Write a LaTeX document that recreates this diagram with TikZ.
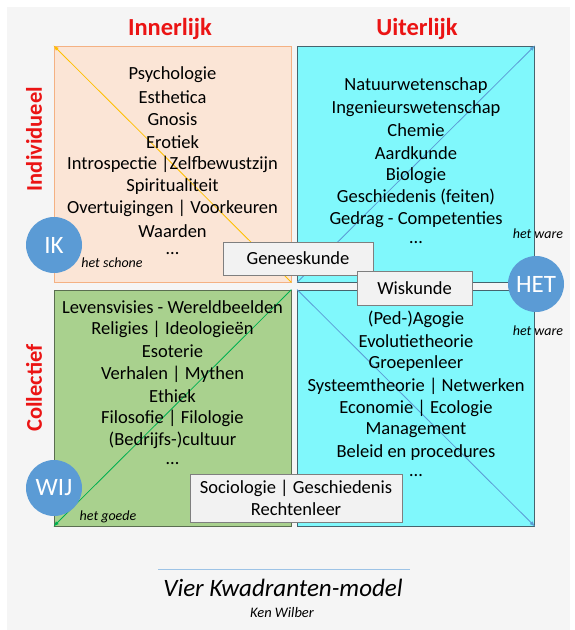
\documentclass[tikz,border=0pt]{standalone}
\usepackage{fontspec}
\setmainfont{Carlito}
\tikzset{% change default arrow tips
    >=latex
}
\definecolor{bggray}{RGB}{245,245,245}
\definecolor{peach}{RGB}{251,229,214}
\definecolor{peachline}{RGB}{244,177,131}
\definecolor{aqua}{RGB}{128,248,252}
\definecolor{aqualine}{RGB}{70,100,110}
\definecolor{leaf}{RGB}{169,209,142}
\definecolor{leafline}{RGB}{90,110,80}
\definecolor{egoblue}{RGB}{91,155,213}
\definecolor{titlered}{RGB}{235,20,20}
\definecolor{arrowyellow}{RGB}{255,192,0}
\definecolor{arrowgreen}{RGB}{0,176,80}
\definecolor{boxgray}{RGB}{242,242,242}
\definecolor{boxline}{RGB}{127,127,127}
\definecolor{ruleblue}{RGB}{157,195,230}

\begin{document}
\begin{tikzpicture}[x=1pt,y=-1pt]
    		\newcommand{\lsep}{22.3} % spacing of the text lines
    		\newcommand{\lcol}{172.5}
    		\newcommand{\rcol}{416}

    		% set the styles of quadrants, texts and circles
    		\tikzset{
    			quad/.style={
    				draw,
    				line width=0.8pt,
    				minimum width=237pt,
    				minimum height=236pt,
    				inner sep=0pt
    				},
    			item/.style={font=\fontsize{18.5}{21}\selectfont},
    			title/.style={text=titlered, font=\bfseries\fontsize{24.5}{28}\selectfont},
    			hetlabel/.style={font=\itshape\fontsize{14}{16}\selectfont},
    			ego/.style={circle, fill=egoblue, minimum size=56pt, inner sep=0pt,
    				text=white, font=\fontsize{25}{27}\selectfont},
    			vak/.style={draw=boxline, fill=boxgray, line width=0.8pt, inner sep=0pt,
    				font=\fontsize{18.5}{22}\selectfont, align=center},
    			diag/.style={->, line width=0.8pt}
    		}

    		% background
    		\useasboundingbox (0,0) rectangle (574,630);
    		\fill[bggray] (7,7) rectangle (570,630);

    		% quadrants
    		\node[quad, draw=peachline, fill=peach] (tl) at (\lcol,164) {};
    		\node[quad, draw=aqualine, fill=aqua] (tr) at (\rcol,164) {};
    		\node[quad, draw=leafline, fill=leaf] (bl) at (\lcol,408) {};
    		\node[quad, draw=aqualine, fill=aqua] (br) at (\rcol,408) {};

    		% diagonal arrows
    		\draw[diag, arrowyellow] (tl.south east) -- (tl.north west);
    		\draw[diag, egoblue] (tr.south west) -- (tr.north east);
    		\draw[diag, arrowgreen] (bl.north east) -- (bl.south west);
    		\draw[diag, egoblue] (br.north west) -- (br.south east);

    		% headings
    		\node[title] (inner) at (170,29) {Innerlijk};
    		\node[title] (outer) at (417,29) {Uiterlijk};
    		\node[title, font=\bfseries\fontsize{22.5}{26}\selectfont, rotate=90] (indiv) at (34,139) {Individueel};
    		\node[title, font=\bfseries\fontsize{22.5}{26}\selectfont, rotate=90] (coll) at (34,388) {Collectief};

    		% texts of the quadrants
    		\foreach \t [count=\i] in {Psychologie, Esthetica, Gnosis, Erotiek,
    			Introspectie |Zelfbewustzijn, Spiritualiteit, Overtuigingen | Voorkeuren, Waarden, …}
    			\node[item] (tl-\i) at (\lcol,{75+(\i-1)*\lsep}) {\t};
    		\foreach \t [count=\i] in {Natuurwetenschap, Ingenieurswetenschap, Chemie, Aardkunde,
    			Biologie, Geschiedenis (feiten), Gedrag - Competenties, …}
    			\node[item] (tr-\i) at (\rcol,{86+(\i-1)*\lsep}) {\t};
    		\foreach \t [count=\i] in {Levensvisies - Wereldbeelden, Religies | Ideologieën, Esoterie,
    			Verhalen | Mythen, Ethiek, Filosofie | Filologie, (Bedrijfs-)cultuur, …}
    			\node[item] (bl-\i) at (\lcol,{307+(\i-1)*\lsep}) {\t};
    		\foreach \t [count=\i] in {(Ped-)Agogie, Evolutietheorie, Groepenleer,
    			Systeemtheorie | Netwerken, Economie | Ecologie, Management, Beleid en procedures, …}
    			\node[item] (br-\i) at (\rcol,{319+(\i-1)*\lsep}) {\t};

    		% small labels
    		\node[hetlabel] (schone) at (112,263) {het schone};
    		\node[hetlabel] (ware1) at (538,234) {het ware};
    		\node[hetlabel] (ware2) at (538,331) {het ware};
    		\node[hetlabel] (goede) at (108,517) {het goede};

    		% boxes between the quadrants
    		\node[vak, minimum width=150pt, minimum height=33pt] (genees) at (298,258.5) {Geneeskunde};
    		\node[vak, minimum width=115pt, minimum height=34pt] (wis) at (414.5,288) {Wiskunde};
    		\node[vak, minimum width=212pt, minimum height=48pt] (socio) at (296,498)
    			{Sociologie | Geschiedenis\\Rechtenleer};

    		% circles
    		\node[ego] (ik) at (54,245) {IK};
    		\node[ego] (het) at (536,284) {HET};
    		\node[ego] (wij) at (54,488) {WIJ};

    		% caption
    		\coordinate (rulel) at (158,569);
    		\coordinate (ruler) at (410,569);
    		\draw[ruleblue, line width=1pt] (rulel) -- (ruler);
    		\node[font=\itshape\fontsize{25}{28}\selectfont] (caption) at (283,588) {Vier Kwadranten-model};
    		\node[font=\itshape\fontsize{14.5}{16}\selectfont] (author) at (282,613) {Ken Wilber};
		\end{tikzpicture}
\end{document}
